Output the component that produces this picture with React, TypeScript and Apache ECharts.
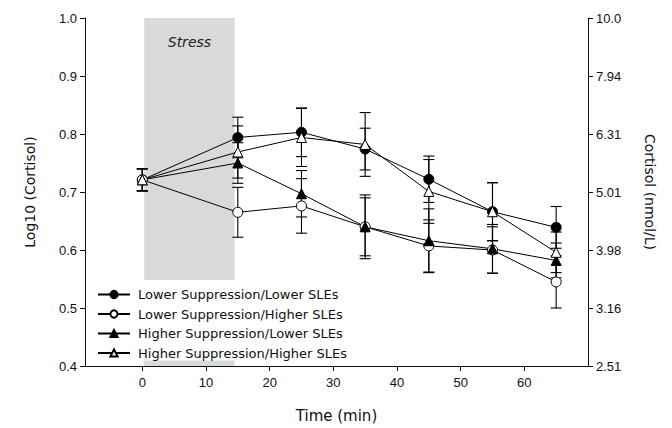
import React, { useEffect, useRef } from "react";
import * as echarts from "echarts";

const timeMin = [0, 15, 25, 35, 45, 55, 65];
const seriesNames = [
  "Lower Suppression/Lower SLEs",
  "Lower Suppression/Higher SLEs",
  "Higher Suppression/Lower SLEs",
  "Higher Suppression/Higher SLEs",
];
const lowLow = [0.721, 0.794, 0.803, 0.774, 0.722, 0.666, 0.639];
const lowHigh = [0.721, 0.665, 0.676, 0.64, 0.607, 0.6, 0.545];
const highLow = [0.721, 0.75, 0.697, 0.64, 0.616, 0.602, 0.582];
const highHigh = [0.721, 0.769, 0.794, 0.782, 0.701, 0.666, 0.596];
const lowLowSE = [0.019, 0.035, 0.042, 0.036, 0.04, 0.05, 0.036];
const lowHighSE = [0.019, 0.043, 0.047, 0.055, 0.045, 0.04, 0.045];
const highLowSE = [0.019, 0.035, 0.04, 0.05, 0.055, 0.042, 0.03];
const highHighSE = [0.019, 0.045, 0.05, 0.055, 0.055, 0.05, 0.035];
const xTicks = [0, 10, 20, 30, 40, 50, 60];
const stressWindow = [0.3, 14.5];

const SANS = "'DejaVu Sans', Verdana, sans-serif";
const ARIAL = "'Liberation Sans', Arial, sans-serif";

export default function App() {
  const ref = useRef<HTMLDivElement>(null);
  useEffect(() => {
    if (!ref.current) return;
    const chart = echarts.init(ref.current, undefined, { renderer: "svg" });
    const values = [lowLow, lowHigh, highLow, highHigh];
    const ses = [lowLowSE, lowHighSE, highLowSE, highHighSE];
    const symbols = ["circle", "circle", "triangle", "triangle"];
    const fills = ["#000", "#fff", "#000", "#fff"];

    const lineSeries = seriesNames.map((name, i) => ({
      name,
      type: "line",
      data: timeMin.map((t, j) => [t, values[i][j]]),
      symbol: symbols[i],
      symbolSize: 10,
      showAllSymbol: true,
      lineStyle: { color: "#000", width: 1 },
      itemStyle: { color: fills[i], borderColor: "#000", borderWidth: 1 },
      z: 3,
    }));

    const errorSeries = seriesNames.map((name, i) => ({
      type: "custom",
      name: name + " err",
      data: timeMin.map((t, j) => [t, values[i][j] - ses[i][j], values[i][j] + ses[i][j]]),
      encode: { x: 0, y: [1, 2] },
      z: 2,
      silent: true,
      renderItem: (params: any, api: any) => {
        const lo = api.coord([api.value(0), api.value(1)]);
        const hi = api.coord([api.value(0), api.value(2)]);
        const hw = 5.5;
        const style = { stroke: "#000", lineWidth: 1.1 };
        return {
          type: "group",
          children: [
            { type: "line", shape: { x1: lo[0], y1: lo[1], x2: hi[0], y2: hi[1] }, style },
            { type: "line", shape: { x1: lo[0] - hw, y1: lo[1], x2: lo[0] + hw, y2: lo[1] }, style },
            { type: "line", shape: { x1: hi[0] - hw, y1: hi[1], x2: hi[0] + hw, y2: hi[1] }, style },
          ],
        };
      },
    }));

    const stressSeries = {
      type: "line",
      name: "stress",
      data: [],
      z: 1,
      markArea: {
        silent: true,
        itemStyle: { color: "#d9d9d9" },
        label: {
          show: true,
          position: "insideTop",
          distance: 17,
          formatter: "Stress",
          fontStyle: "italic",
          fontFamily: SANS,
          fontSize: 14,
          color: "#222",
        },
        data: [[{ xAxis: stressWindow[0] }, { xAxis: stressWindow[1] }]],
      },
    };

    const yCommon = {
      type: "value",
      min: 0.4,
      max: 1.0,
      interval: 0.1,
      splitLine: { show: false },
      axisLine: { show: true, onZero: false, lineStyle: { color: "#111", width: 1 } },
      axisTick: { show: true, length: 5, lineStyle: { color: "#111" } },
      nameLocation: "middle",
      nameTextStyle: { fontFamily: SANS, fontSize: 14, color: "#111" },
    };

    chart.setOption({
      animation: false,
      grid: { left: 85, right: 84, top: 18, bottom: 60 },
      legend: {
        data: seriesNames,
        orient: "vertical",
        left: 87,
        top: 280,
        padding: [8, 10, 1, 10],
        itemGap: 6.5,
        itemWidth: 32,
        itemHeight: 9,
        backgroundColor: "#fff",
        textStyle: { fontFamily: SANS, fontSize: 13, color: "#111", padding: [0, 0, 0, 3] },
      },
      xAxis: {
        type: "value",
        min: -9,
        max: 70,
        splitLine: { show: false },
        axisLine: { onZero: false, lineStyle: { color: "#111", width: 1 } },
        axisTick: { show: true, length: 5, customValues: xTicks, lineStyle: { color: "#111" } },
        axisLabel: { customValues: xTicks, fontFamily: ARIAL, fontSize: 13, color: "#111", margin: 10 },
        name: "Time (min)",
        nameLocation: "middle",
        nameGap: 42,
        nameTextStyle: { fontFamily: SANS, fontSize: 15, color: "#111" },
      },
      yAxis: [
        {
          ...yCommon,
          position: "left",
          name: "Log10 (Cortisol)",
          nameGap: 48,
          axisLabel: {
            fontFamily: ARIAL,
            fontSize: 13,
            color: "#111",
            margin: 8,
            formatter: (v: number) => v.toFixed(1),
          },
        },
        {
          ...yCommon,
          position: "right",
          name: "Cortisol (nmol/L)",
          nameRotate: -90,
          nameGap: 55,
          axisLabel: {
            fontFamily: ARIAL,
            fontSize: 13,
            color: "#111",
            margin: 8,
            formatter: (v: number) => Math.pow(10, v).toPrecision(3),
          },
        },
      ],
      series: [stressSeries, ...errorSeries, ...lineSeries],
    });
    return () => chart.dispose();
  }, []);
  return (
    <div
      ref={ref}
      style={{ position: "fixed", left: 0, top: 0, width: 672, height: 428, background: "#fff" }}
    />
  );
}
